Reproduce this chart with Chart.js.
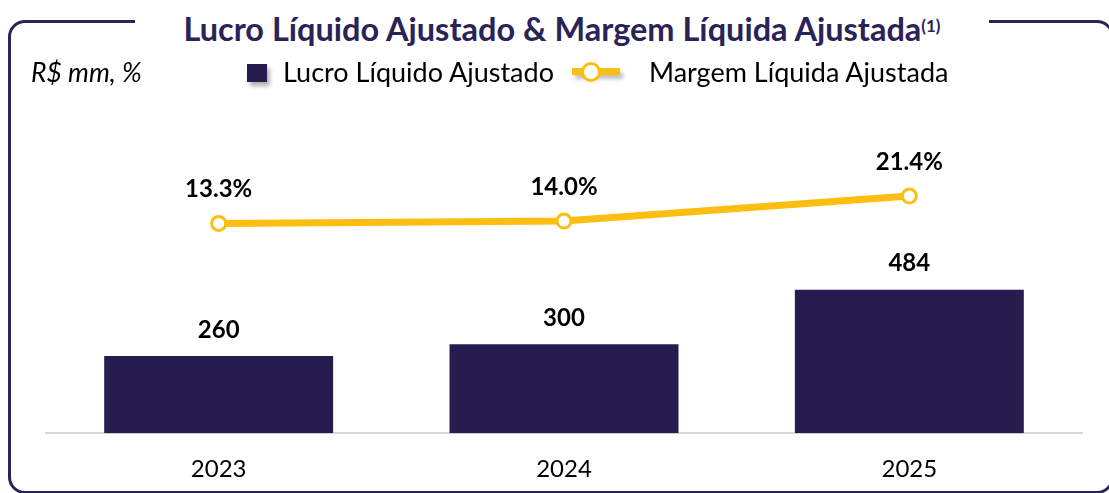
<!DOCTYPE html>
<html>
<head>
<meta charset="utf-8">
<script src="https://cdn.jsdelivr.net/npm/chart.js@4/dist/chart.umd.min.js"></script>
<style>
body{margin:0;background:#fff;overflow:hidden;}
#wrap{position:relative;width:1109px;height:493px;overflow:hidden;font-family:Lato,"Open Sans",sans-serif;}
#frame{position:absolute;left:8px;top:20px;width:1100px;height:468px;border:3px solid #2a2358;border-radius:17px;}
#ttl{position:absolute;left:135px;top:8px;width:854px;background:#fff;text-align:center;color:#2a2358;font-weight:bold;font-size:32.5px;line-height:42px;}
#ttl sup{font-size:17px;vertical-align:top;position:relative;top:-3px;}
#unit{position:absolute;left:31px;top:56px;font-style:italic;font-size:26.5px;color:#000;}
.lg{position:absolute;top:55px;font-size:27px;color:#000;}
#sq{position:absolute;left:247px;top:64px;width:20px;height:18px;background:#261c50;box-shadow:3px 4px 4px rgba(0,0,0,0.3);}
#ln{position:absolute;left:572px;top:68px;width:48px;height:7px;background:#fdbe12;box-shadow:3px 4px 4px rgba(0,0,0,0.25);}
#dot{position:absolute;left:581px;top:62px;width:14px;height:14px;border:3px solid #fdbe12;border-radius:50%;background:#fff;}
#c{position:absolute;left:0;top:0;}
</style>
</head>
<body>
<div id="wrap">
  <div id="frame"></div>
  <div id="ttl">Lucro Líquido Ajustado &amp; Margem Líquida Ajustada<sup>(1)</sup></div>
  <canvas id="c" width="1109" height="502"></canvas>
  <div id="unit">R$ mm, %</div>
  <div id="sq"></div><div class="lg" style="left:283px">Lucro Líquido Ajustado</div>
  <div id="ln"></div><div id="dot"></div><div class="lg" style="left:649px">Margem Líquida Ajustada</div>
</div>
<script>
var anos=["2023","2024","2025"];
var lucro=[260,300,484];
var margem=[13.3,14.0,21.4];

// rotulos de valor em cima das barras e pontos
var rotulos={
  id:"rotulos",
  afterDatasetsDraw:function(chart){
    var ctx=chart.ctx;
    ctx.save();
    ctx.font="bold 24px Lato, sans-serif";
    ctx.fillStyle="#000";
    ctx.textAlign="center";
    ctx.textBaseline="middle";
    chart.getDatasetMeta(0).data.forEach(function(el,i){
      ctx.fillText(lucro[i],el.x,el.y-26);
    });
    chart.getDatasetMeta(1).data.forEach(function(el,i){
      ctx.fillText(margem[i].toFixed(1)+"%",el.x,el.y-34);
    });
    ctx.restore();
  }
};

var ctx=document.getElementById("c").getContext("2d");
var chart=new Chart(ctx,{
  data:{
    labels:anos,
    datasets:[
      {type:"bar",label:"Lucro Líquido Ajustado",data:lucro,backgroundColor:"#261c50",yAxisID:"y",order:2,
       categoryPercentage:1,barPercentage:0.663},
      {type:"line",label:"Margem Líquida Ajustada",data:margem,borderColor:"#fdbe12",borderWidth:7,
       pointRadius:7,pointBackgroundColor:"#fff",pointBorderColor:"#fdbe12",pointBorderWidth:3,
       yAxisID:"y1",order:1,tension:0}
    ]
  },
  options:{
    responsive:false,
    animation:false,
    layout:{padding:{top:107,left:46,right:27,bottom:4}},
    plugins:{legend:{display:false},tooltip:{enabled:false}},
    scales:{
      x:{grid:{display:false},border:{color:"#d9d9d9",width:2},
         ticks:{color:"#000",font:{family:"Lato",size:24},padding:14}},
      y:{display:false,min:0,max:1100},
      y1:{display:false,min:-48.9,max:47.8}
    }
  },
  plugins:[rotulos]
});
</script>
</body>
</html>
